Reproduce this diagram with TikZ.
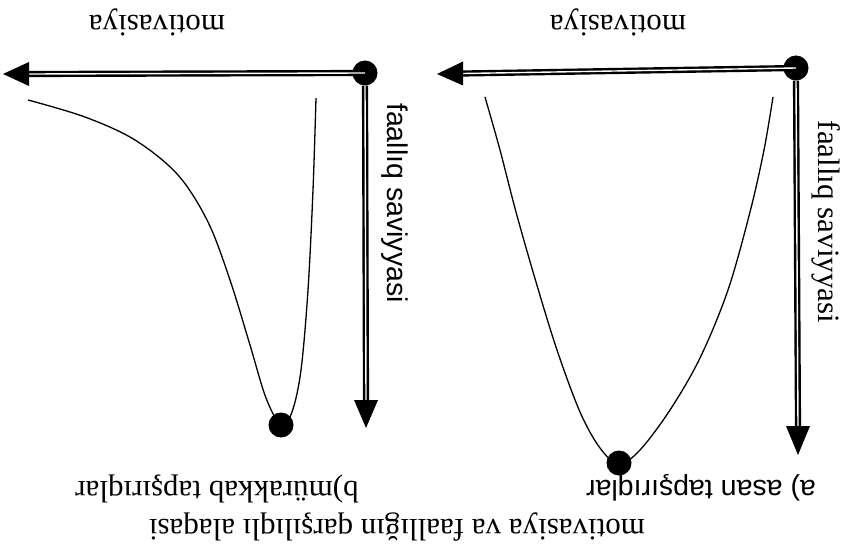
\documentclass[tikz,border=0pt]{standalone}
\usepackage{fontspec}
\setmainfont{Liberation Serif}
\newfontfamily\sansf{Liberation Sans}
\usetikzlibrary{calc}
\begin{document}
\begin{tikzpicture}[x=1pt,y=-1pt,
  dot/.style={circle,fill=black,inner sep=0pt,minimum size=25pt},
  shaft/.style={draw=black,line width=2.4pt,double=white,double distance=1.4pt},
  curveline/.style={draw=black,line width=1.3pt},
  serifl/.style={font=\fontsize{31}{36}\selectfont,inner sep=0pt},
  sansl/.style={font=\sansf\fontsize{28.5}{33}\selectfont,inner sep=0pt}]
\useasboundingbox[fill=white] (0,0) rectangle (847,559);
% ---------- left panel ----------
\draw[curveline] plot[smooth,tension=0.55] coordinates {(28,100) (85,117) (135,140) (178,175) (208,222) (230,280) (250,345) (266,398) (281,425) (292,412) (301,370) (308,290) (313,190) (316,98)};
\node[dot] (dotL) at (365,73) {};
\node[dot] (minL) at (281,425) {};
\coordinate (tipLh) at (3,74);
\coordinate (baseLh) at (29,74);
\coordinate (tipLv) at (366,428);
\coordinate (baseLv) at (366,400);
\draw[shaft] (dotL.center) -- (baseLh);
\draw[shaft] (dotL.south) -- (baseLv);
\fill (tipLh) -- ($(baseLh)+(0,-12)$) -- ($(baseLh)+(0,12)$) -- cycle;
\fill (tipLv) -- ($(baseLv)+(-12,0)$) -- ($(baseLv)+(12,0)$) -- cycle;
\node[serifl,rotate=180] (motL) at (157,22) {motivasiya};
\node[sansl,rotate=-90] (fL) at (395,203) {faallıq saviyyasi};
\node[serifl,rotate=180] (labB) at (217,489) {b)mürakkab tapşırıqlar};
% ---------- right panel ----------
\draw[curveline] plot[smooth,tension=0.55] coordinates {(485,97) (500,150) (516,212) (536,282) (557,350) (580,412) (600,448) (619,464) (640,450) (670,410) (700,358) (728,290) (750,212) (764,150) (773,97)};
\node[dot] (dotR) at (796,68) {};
\node[dot] (minR) at (619,463) {};
\coordinate (tipRh) at (437,74);
\coordinate (baseRh) at (463,73.5);
\coordinate (tipRv) at (798,455);
\coordinate (baseRv) at (798,426);
\draw[shaft] (dotR.center) -- (baseRh);
\draw[shaft] (dotR.south) -- (baseRv);
\fill (tipRh) -- ($(baseRh)+(0,-12)$) -- ($(baseRh)+(0,12)$) -- cycle;
\fill (tipRv) -- ($(baseRv)+(-12,0)$) -- ($(baseRv)+(12,0)$) -- cycle;
\node[serifl,rotate=180] (motR) at (618,22) {motivasiya};
\node[serifl,rotate=-90] (fR) at (826,222) {faallıq saviyyasi};
\node[sansl,rotate=180] (labA) at (701,488) {a) asan tapşırıqlar};
% ---------- title ----------
\node[serifl,rotate=180] (title) at (397,527) {motivasiya va faallığın qarşılıqlı alaqasi};
\end{tikzpicture}
\end{document}
